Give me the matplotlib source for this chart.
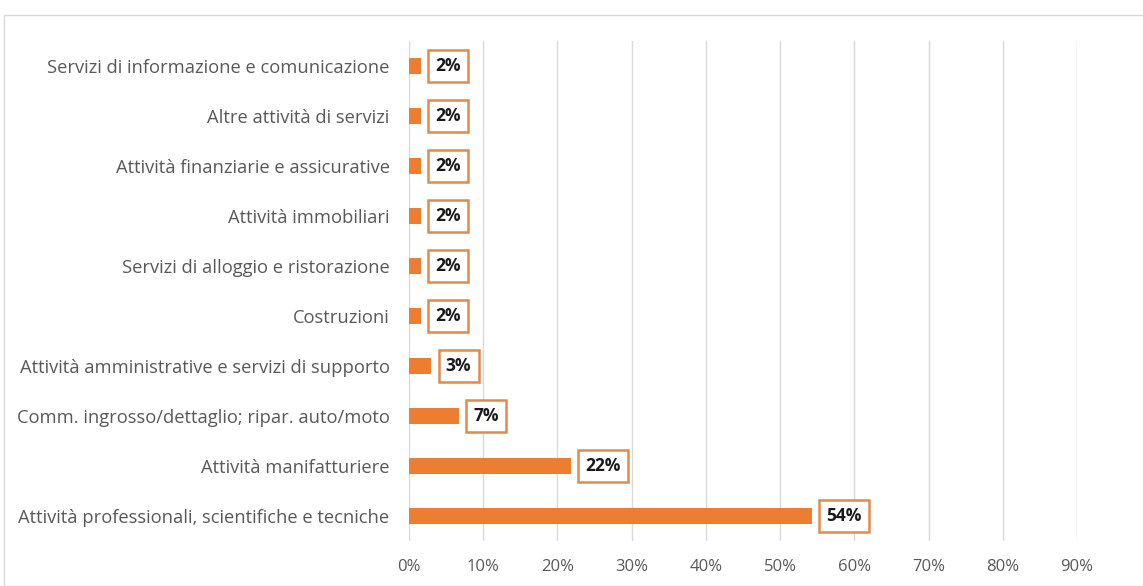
import matplotlib.pyplot as plt
from matplotlib.patches import Rectangle

# categories from bottom to top
categories = [
    "Attività professionali, scientifiche e tecniche",
    "Attività manifatturiere",
    "Comm. ingrosso/dettaglio; ripar. auto/moto",
    "Attività amministrative e servizi di supporto",
    "Costruzioni",
    "Servizi di alloggio e ristorazione",
    "Attività immobiliari",
    "Attività finanziarie e assicurative",
    "Altre attività di servizi",
    "Servizi di informazione e comunicazione",
]
values = [54.3, 21.8, 6.7, 3.0, 1.6, 1.6, 1.6, 1.6, 1.6, 1.6]
labels = ["54%", "22%", "7%", "3%", "2%", "2%", "2%", "2%", "2%", "2%"]
xticks = [0, 10, 20, 30, 40, 50, 60, 70, 80, 90]

orange = "#ED7D31"
grey_text = "#595959"

plt.rcParams['font.family'] = ['Open Sans', 'DejaVu Sans']

fig = plt.figure(figsize=(11.43, 5.86), dpi=100)
fig.patches.append(Rectangle((4 / 1143, 0), 1, 1 - 15 / 586, transform=fig.transFigure,
                             fill=False, edgecolor="#D9D9D9", linewidth=1))

ax = fig.add_axes([409 / 1143, 1 - 541 / 586, 668 / 1143, 500 / 586])
y = list(range(len(categories)))
ax.barh(y, values, height=0.32, color=orange, zorder=3)

for yi, v, lab in zip(y, values, labels):
    ax.annotate(lab, (v, yi), xytext=(10.5, 0), textcoords="offset points",
                va="center", ha="left", fontsize=12.5, fontweight="bold", color="#1a1a1a",
                bbox=dict(boxstyle="square,pad=0.42", facecolor="white", edgecolor="#E08A4C", linewidth=1.8))

ax.set_xlim(0, 90)
ax.set_ylim(-0.5, len(categories) - 0.5)
ax.set_xticks(xticks)
ax.set_xticklabels([f"{t}%" for t in xticks])
ax.set_yticks(y)
ax.set_yticklabels(categories)
ax.grid(axis="x", color="#D9D9D9", linewidth=1, zorder=0)
for s in ax.spines.values():
    s.set_visible(False)
ax.tick_params(axis="both", length=0, colors=grey_text)
ax.tick_params(axis="y", labelsize=13.2, pad=14)
ax.tick_params(axis="x", labelsize=12, pad=13)

fig.savefig("out.png", dpi=100)
